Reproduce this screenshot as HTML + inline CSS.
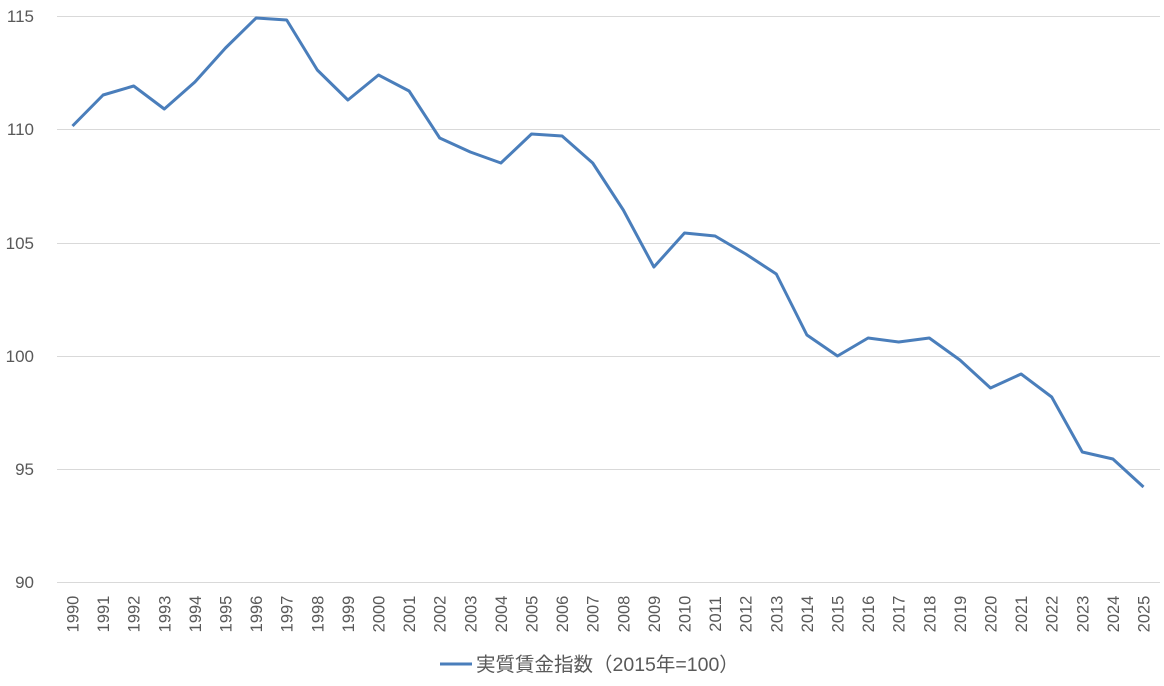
<!DOCTYPE html>
<html><head><meta charset="utf-8"><style>
html,body{margin:0;padding:0;background:#fff;}
svg{display:block;font-family:"Liberation Sans","Noto Sans CJK JP",sans-serif;}
</style></head><body>
<svg width="1164" height="686" viewBox="0 0 1164 686" xmlns="http://www.w3.org/2000/svg">
<g stroke="#d9d9d9" stroke-width="1">
<line x1="57" y1="16.5" x2="1160" y2="16.5"/>
<line x1="57" y1="129.5" x2="1160" y2="129.5"/>
<line x1="57" y1="243.5" x2="1160" y2="243.5"/>
<line x1="57" y1="356.5" x2="1160" y2="356.5"/>
<line x1="57" y1="469.5" x2="1160" y2="469.5"/>
<line x1="57" y1="582.5" x2="1160" y2="582.5"/>
</g>
<g fill="#595959" font-size="17" text-anchor="end">
<text x="34" y="22">115</text>
<text x="34" y="135">110</text>
<text x="34" y="249">105</text>
<text x="34" y="362">100</text>
<text x="34" y="475">95</text>
<text x="34" y="588">90</text>
</g>
<g transform="translate(72.5,0) scale(30.6,1)">
<polyline fill="none" stroke="#4a7ebb" stroke-width="3" stroke-linejoin="round" vector-effect="non-scaling-stroke"
points="0,126 1,95 2,86 3,109 4,82 5,48 6,18 7,20 8,70 9,100 10,75 11,91 12,138 13,152 14,163 15,134 16,136 17,163 18,210 19,267 20,233 21,236 22,254 23,274 24,335 25,356 26,338 27,342 28,338 29,360 30,388 31,374 32,397 33,452 34,459 35,487"/>
</g>
<g fill="#595959" font-size="16.5" text-anchor="middle">
<text transform="translate(78.5,614) rotate(-90)">1990</text>
<text transform="translate(109.1,614) rotate(-90)">1991</text>
<text transform="translate(139.7,614) rotate(-90)">1992</text>
<text transform="translate(170.3,614) rotate(-90)">1993</text>
<text transform="translate(200.9,614) rotate(-90)">1994</text>
<text transform="translate(231.5,614) rotate(-90)">1995</text>
<text transform="translate(262.1,614) rotate(-90)">1996</text>
<text transform="translate(292.7,614) rotate(-90)">1997</text>
<text transform="translate(323.3,614) rotate(-90)">1998</text>
<text transform="translate(353.9,614) rotate(-90)">1999</text>
<text transform="translate(384.5,614) rotate(-90)">2000</text>
<text transform="translate(415.1,614) rotate(-90)">2001</text>
<text transform="translate(445.7,614) rotate(-90)">2002</text>
<text transform="translate(476.3,614) rotate(-90)">2003</text>
<text transform="translate(506.9,614) rotate(-90)">2004</text>
<text transform="translate(537.5,614) rotate(-90)">2005</text>
<text transform="translate(568.1,614) rotate(-90)">2006</text>
<text transform="translate(598.7,614) rotate(-90)">2007</text>
<text transform="translate(629.3,614) rotate(-90)">2008</text>
<text transform="translate(659.9,614) rotate(-90)">2009</text>
<text transform="translate(690.5,614) rotate(-90)">2010</text>
<text transform="translate(721.1,614) rotate(-90)">2011</text>
<text transform="translate(751.7,614) rotate(-90)">2012</text>
<text transform="translate(782.3,614) rotate(-90)">2013</text>
<text transform="translate(812.9,614) rotate(-90)">2014</text>
<text transform="translate(843.5,614) rotate(-90)">2015</text>
<text transform="translate(874.1,614) rotate(-90)">2016</text>
<text transform="translate(904.7,614) rotate(-90)">2017</text>
<text transform="translate(935.3,614) rotate(-90)">2018</text>
<text transform="translate(965.9,614) rotate(-90)">2019</text>
<text transform="translate(996.5,614) rotate(-90)">2020</text>
<text transform="translate(1027.1,614) rotate(-90)">2021</text>
<text transform="translate(1057.7,614) rotate(-90)">2022</text>
<text transform="translate(1088.3,614) rotate(-90)">2023</text>
<text transform="translate(1118.9,614) rotate(-90)">2024</text>
<text transform="translate(1149.5,614) rotate(-90)">2025</text>
</g>
<line x1="440" y1="664" x2="472" y2="664" stroke="#4a7ebb" stroke-width="3"/>
<text x="476" y="671" fill="#595959" font-size="19.5">実質賃金指数（2015年=100）</text>
</svg>
</body></html>
